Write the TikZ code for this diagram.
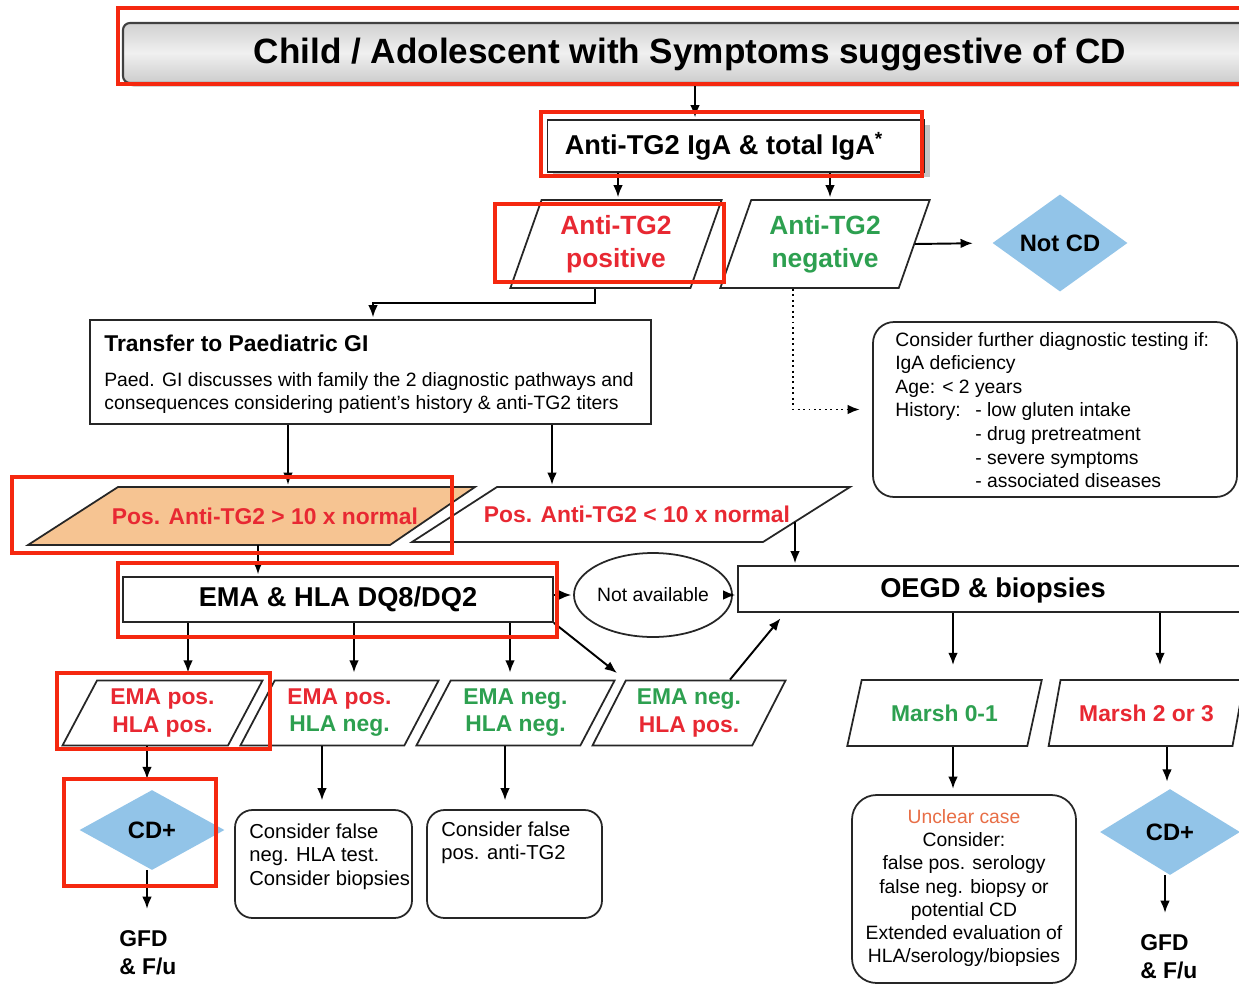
\documentclass[tikz,border=0pt]{standalone}
\usepackage{fontspec}
\setmainfont{Liberation Sans}
\usetikzlibrary{shapes.geometric,arrows.meta,shadows,calc}
\definecolor{hlred}{RGB}{245,40,15}
\definecolor{tred}{RGB}{232,40,50}
\definecolor{tgreen}{RGB}{45,160,80}
\definecolor{orfill}{RGB}{246,196,146}
\definecolor{dblue}{RGB}{146,196,232}
\definecolor{uncl}{RGB}{232,110,70}
\newcommand\pxu{0.02cm}
\begin{document}
\begin{tikzpicture}[x=0.02cm,y=-0.02cm,
  hl/.style={draw=hlred,line width=2.8pt},
  box/.style={draw=black!85,line width=1pt,fill=white,inner sep=0pt},
  rbox/.style={box,rounded corners=#1},
  para/.style={trapezium,trapezium stretches=true,draw=black!85,line width=1pt,fill=white,inner sep=0pt,align=center},
  paraline/.style={draw=black!85,line width=1pt},
  dia/.style={diamond,fill=dblue,inner sep=0pt},
  arr/.style={-{Latex[length=7pt,width=5.5pt]},line width=1.1pt,shorten >=1pt},
  fT/.style={font=\fontsize{20}{24}\selectfont\bfseries},
  fB/.style={font=\fontsize{15.5}{18}\selectfont\bfseries},
  fP/.style={font=\fontsize{15}{18.8}\selectfont\bfseries},
  fQ/.style={font=\fontsize{13}{15.4}\selectfont\bfseries},
  fS/.style={font=\fontsize{11}{13.4}\selectfont},
  fC/.style={font=\fontsize{11.5}{13.6}\selectfont},
  fD/.style={font=\fontsize{13.5}{16}\selectfont\bfseries},
  fG/.style={font=\fontsize{13}{16}\selectfont\bfseries},
  fTr/.style={font=\fontsize{13}{15}\selectfont\bfseries}
]
\useasboundingbox (0,0) rectangle (1239,983);
\fill[white] (0,0) rectangle (1239,983);

% title
\node[draw=black!75,line width=1.2pt,rounded corners=4pt,top color=black!18,bottom color=black!20,middle color=black!6,
  drop shadow={shadow xshift=2pt,shadow yshift=-2pt,fill=black!50},
  minimum width=1128*\pxu,minimum height=60*\pxu,inner sep=0pt] (title) at (687,53) {};
\node[fT] (titletext) at (690,54) {Child / Adolescent with Symptoms suggestive of CD};

% anti-TG2 test
\node[box,drop shadow={shadow xshift=3pt,shadow yshift=-3pt,fill=black!45},
  minimum width=377*\pxu,minimum height=52*\pxu] (tg2box) at (736,146) {};
\node[fB] (tg2text) at (724,146) {Anti-TG2 IgA \& total IgA\textsuperscript{*}};

\node[para,trapezium left angle=68,trapezium right angle=112,minimum width=212*\pxu,minimum height=88*\pxu,text=tred,fP] (tg2pos) at (616,244) {Anti-TG2\\positive};
\node[para,trapezium left angle=68,trapezium right angle=112,minimum width=210*\pxu,minimum height=88*\pxu,text=tgreen,fP] (tg2neg) at (825,244) {Anti-TG2\\negative};
\node[dia,minimum width=135*\pxu,minimum height=88*\pxu,fD] (notcd) at (1060,243) {Not CD};

% transfer
\node[box,minimum width=561*\pxu,minimum height=104*\pxu] (transfer) at (370.5,372) {};
\node[fTr,anchor=west,inner sep=0pt] (transfert) at (104,343) {Transfer to Paediatric GI};
\node[fS,anchor=north west,align=left,inner sep=0pt] (transferb) at (104,372) {Paed. GI discusses with family the 2 diagnostic pathways and\\consequences considering patient's history \& anti-TG2 titers};

% consider further
\node[rbox=12pt,minimum width=364*\pxu,minimum height=175*\pxu] (consider) at (1055,409.5) {};
\node[fS,anchor=north west,align=left,inner sep=0pt] (considert) at (895,332) {Consider further diagnostic testing if:\\IgA deficiency\\Age: < 2 years\\\makebox[1.6cm][l]{History:}- low gluten intake\\\hspace*{1.6cm}- drug pretreatment\\\hspace*{1.6cm}- severe symptoms\\\hspace*{1.6cm}- associated diseases};

% titer split (parallelograms drawn explicitly)
\filldraw[paraline,fill=orfill] (118,487) -- (475,487) -- (390,545) -- (28,545) -- cycle;
\node[fQ,text=tred,minimum height=58*\pxu,inner sep=0pt] (pos1) at (265,516) {Pos. Anti-TG2 > 10 x normal};
\filldraw[paraline,fill=white] (497,487) -- (850,487) -- (763,542) -- (412,542) -- cycle;
\node[fQ,text=tred,minimum height=55*\pxu,inner sep=0pt] (pos2) at (637,514.5) {Pos. Anti-TG2 < 10 x normal};
\coordinate (p2r) at (795,522);

% EMA / OEGD
\node[box,minimum width=430*\pxu,minimum height=45*\pxu,fB] (ema) at (338,599.5) {EMA \& HLA DQ8/DQ2};
\node[ellipse,draw=black!85,line width=1pt,minimum width=122*\pxu,minimum height=84*\pxu,inner sep=0pt,font=\fontsize{11}{13}\selectfont] (na) at (653,595) {Not available};
\node[box,minimum width=512*\pxu,minimum height=46*\pxu] (oegd) at (994,589) {};
\node[fB] (oegdt) at (993,590) {OEGD \& biopsies};

% results row
\node[para,trapezium left angle=60,trapezium right angle=120,minimum width=201*\pxu,minimum height=65*\pxu,fQ] (ra) at (162.5,713) {\textcolor{tred}{EMA pos.}\\\textcolor{tred}{HLA pos.}};
\node[para,trapezium left angle=60,trapezium right angle=120,minimum width=199*\pxu,minimum height=65*\pxu,fQ] (rb) at (339.5,713) {\textcolor{tred}{EMA pos.}\\\textcolor{tgreen}{HLA neg.}};
\node[para,trapezium left angle=60,trapezium right angle=120,minimum width=199*\pxu,minimum height=65*\pxu,fQ] (rc) at (515.5,713) {\textcolor{tgreen}{EMA neg.}\\\textcolor{tgreen}{HLA neg.}};
\node[para,trapezium left angle=60,trapezium right angle=120,minimum width=194*\pxu,minimum height=65*\pxu,fQ] (rd) at (689,713) {\textcolor{tgreen}{EMA neg.}\\\textcolor{tred}{HLA pos.}};
\node[para,trapezium left angle=61,trapezium right angle=119,minimum width=195*\pxu,minimum height=66*\pxu,fQ,text=tgreen] (m0) at (944.5,713) {Marsh 0-1};
\node[para,trapezium left angle=61,trapezium right angle=119,minimum width=197*\pxu,minimum height=66*\pxu,fQ,text=tred] (m23) at (1146.5,713) {Marsh 2 or 3};

% bottom
\node[dia,minimum width=145*\pxu,minimum height=80*\pxu,fD] (cd1) at (152,830) {CD+};
\node[fG,anchor=north west,align=left,inner sep=0pt] (gfd1) at (119,930) {GFD\\\& F/u};
\node[rbox=10pt,minimum width=177*\pxu,minimum height=108*\pxu] (cfn) at (323.5,864) {};
\node[fC,anchor=north west,align=left,inner sep=0pt] (cfnt) at (249,823) {Consider false\\neg. HLA test.\\Consider biopsies};
\node[rbox=10pt,minimum width=175*\pxu,minimum height=108*\pxu] (cfp) at (514.5,864) {};
\node[fC,anchor=north west,align=left,inner sep=0pt] (cfpt) at (441,821) {Consider false\\pos. anti-TG2};
\node[rbox=14pt,minimum width=224*\pxu,minimum height=188*\pxu] (unc) at (964,889) {};
\node[align=center,font=\fontsize{11}{13.2}\selectfont,inner sep=0pt] (unct) at (964,888) {\textcolor{uncl}{Unclear case}\\Consider:\\false pos. serology\\false neg. biopsy or\\potential CD\\Extended evaluation of\\HLA/serology/biopsies};
\node[dia,minimum width=140*\pxu,minimum height=86*\pxu,fD] (cd2) at (1170,832) {CD+};
\node[fG,anchor=north west,align=left,inner sep=0pt] (gfd2) at (1140,934) {GFD\\\& F/u};

% connectors
\draw[arr] (title.south -| 695,0) -- (tg2box.north -| 695,0);
\draw[arr] (tg2box.south -| 618,0) -- (tg2pos.north -| 618,0);
\draw[arr] (tg2box.south -| 830,0) -- (tg2neg.north -| 830,0);
\draw[arr,shorten >=11pt] (tg2neg.east) -- (notcd.west);
\draw[arr] (tg2pos.south -| 595,0) |- (373,303) -- (transfer.north -| 373,0);
\draw[arr,dotted,shorten >=7pt] (tg2neg.south -| 793,0) |- (consider.west);
\draw[arr] (transfer.south -| 288,0) -- (pos1.north -| 288,0);
\draw[arr] (transfer.south -| 552,0) -- (pos2.north -| 552,0);
\draw[arr] (pos1.south -| 258,0) -- (ema.north -| 258,0);
\draw[arr] (p2r) -- (p2r |- oegd.north);
\draw[arr] (ema.east |- na.west) -- (na.west);
\draw[arr] (na.east) -- (oegd.west |- na.east);
\draw[arr,shorten >=4pt] (ema.south -| 188,0) -- (ra.north -| 188,0);
\draw[arr,shorten >=4pt] (ema.south -| 354,0) -- (rb.north -| 354,0);
\draw[arr,shorten >=4pt] (ema.south -| 510,0) -- (rc.north -| 510,0);
\draw[arr,shorten >=6pt] (ema.south east) -- (rd.top left corner);
\draw[arr,shorten >=4pt] (rd.north -| 730,0) -- (oegd.south -| 785,0);
\draw[arr,shorten >=8pt] (oegd.south -| 953,0) -- (m0.north -| 953,0);
\draw[arr,shorten >=8pt] (oegd.south -| 1160,0) -- (m23.north -| 1160,0);
\draw[arr,shorten >=6pt] (ra.south -| 147,0) -- (cd1.north -| 147,0);
\draw[arr,shorten >=12pt] (cd1.south -| 147,0) -- (gfd1.north -| 147,0);
\draw[arr,shorten >=5pt] (rb.south -| 322,0) -- (cfn.north -| 322,0);
\draw[arr,shorten >=5pt] (rc.south -| 505,0) -- (cfp.north -| 505,0);
\draw[arr,shorten >=3pt] (m0.south -| 953,0) -- (unc.north -| 953,0);
\draw[arr,shorten >=4pt] (m23.south -| 1167,0) -- (cd2.north -| 1167,0);
\draw[arr,shorten >=12pt] (cd2.south -| 1165,0) -- (gfd2.north -| 1165,0);

% red highlight frames
\draw[hl] (118,8) rectangle (1260,84);
\draw[hl] (541,112) rectangle (922,176);
\draw[hl] (495,204) rectangle (724,282);
\draw[hl] (12,477) rectangle (452,553);
\draw[hl] (118,563) rectangle (557,637);
\draw[hl] (57,673) rectangle (270,749);
\draw[hl] (64,779) rectangle (216,886);
\end{tikzpicture}
\end{document}
